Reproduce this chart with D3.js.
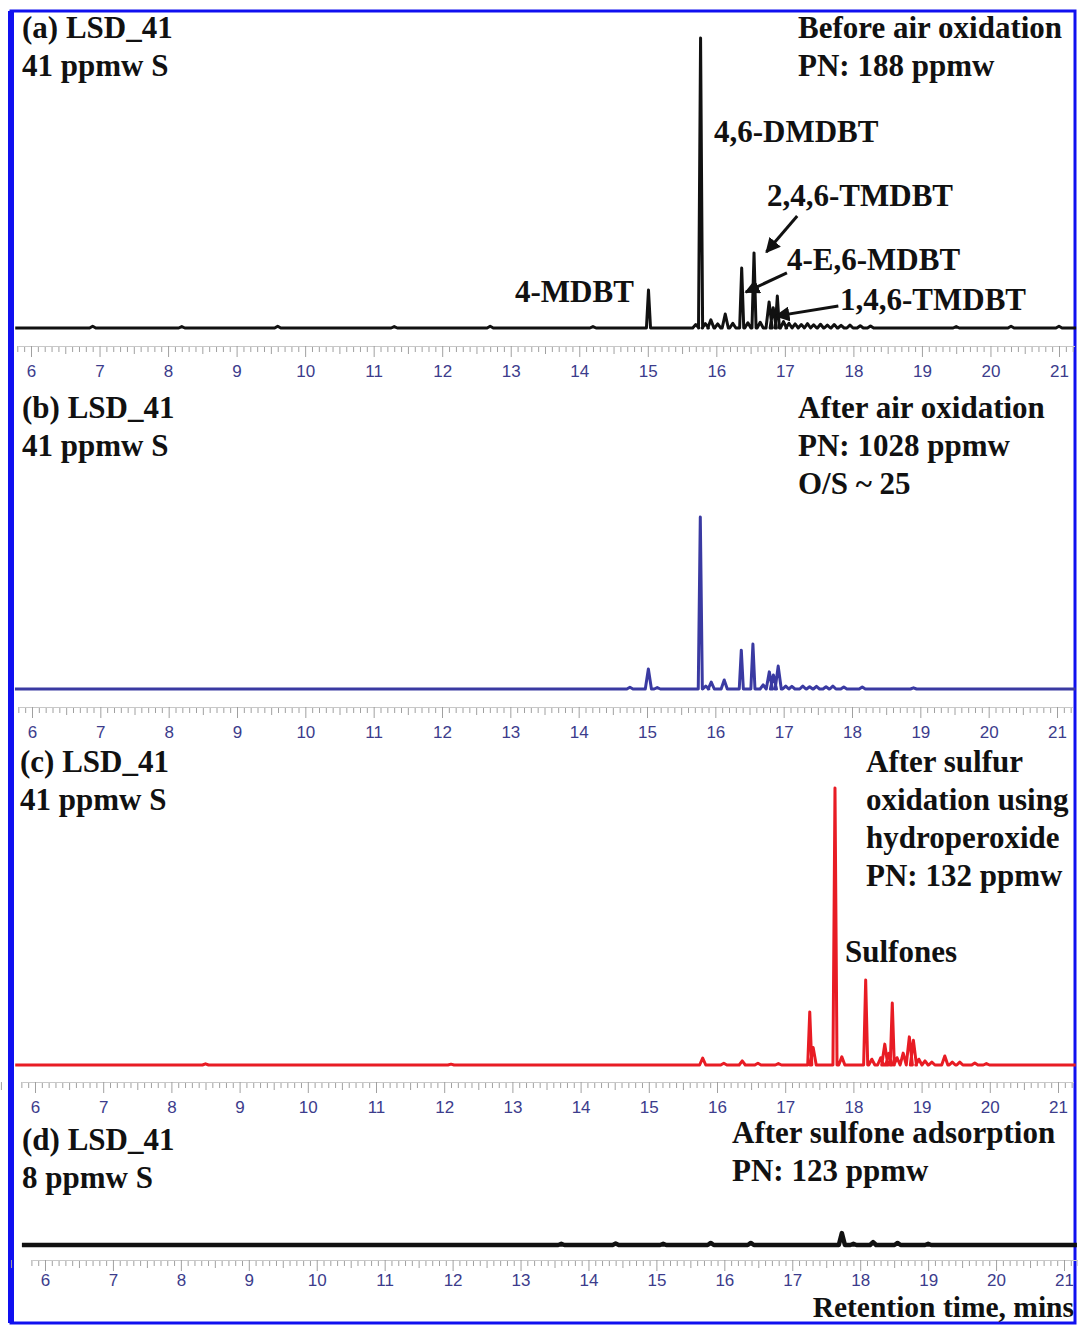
<!DOCTYPE html>
<html>
<head>
<meta charset="utf-8">
<script src="https://cdn.jsdelivr.net/npm/d3@7"></script>
<style>
  body { margin: 0; background: #fff; }
  svg { display: block; }
</style>
</head>
<body>
<svg id="chart" width="1078" height="1325"></svg>
<script>
// Retention time axis (min)
const tickValues = d3.range(6, 22);

// Peaks: [retention time (min), height (relative detector response)]
const peaksA = [
  [6.9, 0.6], [8.2, 0.5], [9.6, 0.6], [11.3, 0.5], [12.7, 0.6], [14.2, 0.5],
  [15.01, 13.1], [15.70, 1.2], [15.77, 100], [15.84, 1.5], [15.92, 2.8], [16.02, 1.4],
  [16.13, 4.8], [16.24, 1.6], [16.37, 20.7], [16.46, 1.8], [16.55, 25.9], [16.64, 2.0],
  [16.77, 9.0], [16.83, 7.0], [16.89, 11.0], [16.98, 2.2], [17.06, 1.6], [17.15, 1.4],
  [17.24, 1.2], [17.33, 1.5], [17.42, 1.1], [17.52, 1.3], [17.62, 1.0], [17.72, 1.2],
  [17.82, 0.9], [17.95, 1.0], [18.1, 0.8], [18.25, 0.7], [19.5, 0.5], [20.3, 0.6], [21.0, 0.6]
];
const peaksB = [
  [14.75, 0.6], [15.02, 6.9], [15.15, 0.5], [15.78, 59.3], [15.86, 1.0], [15.94, 2.4],
  [16.13, 3.1], [16.38, 13.4], [16.55, 15.5], [16.70, 1.4], [16.79, 5.9], [16.85, 4.8],
  [16.92, 7.9], [17.03, 1.0], [17.12, 0.9], [17.28, 1.0], [17.38, 0.8], [17.48, 0.9],
  [17.62, 0.8], [17.72, 1.0], [17.88, 0.7], [18.15, 0.7], [18.9, 0.4]
];
const peaksC = [
  [8.5, 0.4], [12.1, 0.3], [15.79, 2.4], [16.1, 0.6], [16.37, 1.4], [16.6, 0.6],
  [16.9, 0.5], [17.36, 18.3], [17.41, 6.0], [17.73, 95.5], [17.83, 2.8], [18.18, 29.3],
  [18.27, 2.0], [18.40, 2.5], [18.46, 7.2], [18.52, 4.0], [18.57, 21.4], [18.64, 2.5],
  [18.73, 4.1], [18.82, 9.7], [18.88, 8.5], [18.96, 2.0], [19.05, 1.4], [19.15, 1.0],
  [19.34, 3.1], [19.45, 1.0], [19.56, 1.0], [19.78, 0.7], [19.95, 0.5]
];
const peaksD = [
  [13.6, 0.4], [14.4, 0.5], [15.1, 0.4], [15.80, 0.7], [16.39, 0.7], [17.73, 4.1],
  [17.9, 0.4], [18.19, 1.0], [18.55, 0.7], [19.0, 0.4]
];

// Panel text
const textA = ["(a) LSD_41", "41 ppmw S", "Before air oxidation", "PN: 188 ppmw"];
const compoundsA = ["4-MDBT", "4,6-DMDBT", "2,4,6-TMDBT", "4-E,6-MDBT", "1,4,6-TMDBT"];
const textB = ["(b) LSD_41", "41 ppmw S", "After air oxidation", "PN: 1028 ppmw", "O/S ~ 25"];
const textC = ["(c) LSD_41", "41 ppmw S", "After sulfur", "oxidation using", "hydroperoxide", "PN: 132 ppmw", "Sulfones"];
const textD = ["(d) LSD_41", "8 ppmw S", "After sulfone adsorption", "PN: 123 ppmw"];
const xTitle = "Retention time, mins";

// Layout of the four stacked chromatograms
const panels = [
  { peaks: peaksA, x6: 31, x21: 1059, t0: 5.77, t1: 21.25, base: 328, ruler: 346, pad: 8,
    color: "#111", width: 3,
    text: textA, pos: [[22, 38], [22, 76], [798, 38], [798, 76]] },
  { peaks: peaksB, x6: 32, x21: 1057, t0: 5.75, t1: 21.27, base: 689, ruler: 707, pad: 8,
    color: "#3a3aa2", width: 3,
    text: textB, pos: [[22, 418], [22, 456], [798, 418], [798, 456], [798, 494]] },
  { peaks: peaksC, x6: 35, x21: 1058, t0: 5.71, t1: 21.26, base: 1065, ruler: 1082, pad: 8,
    color: "#e81c24", width: 3,
    text: textC, pos: [[20, 772], [20, 810], [866, 772], [866, 810], [866, 848], [866, 886], [845, 962]] },
  { peaks: peaksD, x6: 45, x21: 1064, t0: 5.66, t1: 21.19, base: 1245, ruler: 1260, pad: 3,
    color: "#111", width: 4.5,
    text: textD, pos: [[22, 1150], [22, 1188], [732, 1143], [732, 1181]] }
];

const svg = d3.select("#chart");
const serif = "'Liberation Serif', 'Times New Roman', serif";
const fontSize = 31;

// Blue frame
svg.append("rect").attr("x", 11).attr("y", 11).attr("width", 1064).attr("height", 1312)
  .attr("fill", "none").attr("stroke", "#1010f0").attr("stroke-width", 3);
svg.append("rect").attr("x", 8).attr("y", 11).attr("width", 6).attr("height", 1312)
  .attr("fill", "#1010f0");

panels.forEach((p, i) => {
  const x = d3.scaleLinear().domain([6, 21]).range([p.x6, p.x21]);
  const y = d3.scaleLinear().domain([0, 100]).range([p.base, p.base - 290]);

  // Trace: flat baseline with narrow peaks
  const pts = [[p.t0, 0]];
  p.peaks.forEach(([t, h]) => {
    const w = h > 10 ? 0.03 : 0.045;
    pts.push([t - w, 0], [t, h], [t + w, 0]);
  });
  pts.push([p.t1, 0]);

  const line = d3.line().x(d => x(d[0])).y(d => y(d[1]));
  svg.append("path")
    .datum(pts)
    .attr("fill", "none")
    .attr("stroke", p.color)
    .attr("stroke-width", p.width)
    .attr("stroke-linejoin", "round")
    .attr("d", line);

  // Ruler style axis: minor 0.1, half 0.5, major 1 min
  const minor = d3.range(58, 213).map(v => v / 10).filter(v => Math.abs(v * 2 - Math.round(v * 2)) > 0.01);
  const half = d3.range(5.5, 21.5, 1);
  const g = svg.append("g").attr("transform", `translate(0,${p.ruler})`);
  g.append("g").call(d3.axisBottom(x).tickValues(minor).tickSize(6).tickFormat(""));
  g.append("g").call(d3.axisBottom(x).tickValues(half).tickSize(8).tickFormat(""));
  g.append("g").call(d3.axisBottom(x).tickValues(tickValues).tickSize(11).tickPadding(p.pad).tickFormat(d3.format("d")));
  g.selectAll(".domain").attr("stroke", "#c8c8c8").attr("d", `M${x(5.82)},0.5H${x(21.23)}`);
  g.selectAll(".tick line").attr("stroke", "#a0a0a0");
  g.selectAll(".tick text")
    .attr("fill", "#3c3c8c")
    .attr("font-family", "'Liberation Sans', Arial, sans-serif")
    .attr("font-size", 17);

  // Panel text
  svg.append("g").selectAll("text")
    .data(p.text)
    .join("text")
    .attr("x", (d, k) => p.pos[k][0])
    .attr("y", (d, k) => p.pos[k][1])
    .attr("font-family", serif)
    .attr("font-weight", "bold")
    .attr("font-size", fontSize)
    .attr("fill", "#111")
    .text(d => d);

  if (i === 0) {
    // Compound labels and arrows for panel (a)
    const labelPos = [[515, 302], [714, 142], [767, 206], [787, 270], [840, 310]];
    svg.append("g").selectAll("text")
      .data(compoundsA)
      .join("text")
      .attr("x", (d, k) => labelPos[k][0])
      .attr("y", (d, k) => labelPos[k][1])
      .attr("font-family", serif)
      .attr("font-weight", "bold")
      .attr("font-size", fontSize)
      .attr("fill", "#111")
      .text(d => d);

    svg.append("defs").append("marker")
      .attr("id", "head")
      .attr("viewBox", "0 0 10 10")
      .attr("refX", 9).attr("refY", 5)
      .attr("markerWidth", 5).attr("markerHeight", 5)
      .attr("markerUnits", "strokeWidth")
      .attr("orient", "auto")
      .append("path").attr("d", "M0,0L10,5L0,10z").attr("fill", "#111");

    // [tail, tip] in data units (time, response)
    const arrows = [
      [[17.18, 38.6], [16.73, 26.2]],
      [[17.03, 19.0], [16.43, 12.4]],
      [[17.78, 7.6], [16.87, 4.1]]
    ];
    svg.append("g").selectAll("line")
      .data(arrows)
      .join("line")
      .attr("x1", d => x(d[0][0])).attr("y1", d => y(d[0][1]))
      .attr("x2", d => x(d[1][0])).attr("y2", d => y(d[1][1]))
      .attr("stroke", "#111")
      .attr("stroke-width", 3)
      .attr("marker-end", "url(#head)");
  }
});

// X axis title
svg.append("text")
  .attr("x", 1074).attr("y", 1317)
  .attr("text-anchor", "end")
  .attr("font-family", serif)
  .attr("font-weight", "bold")
  .attr("font-size", 29.5)
  .attr("fill", "#111")
  .text(xTitle);
</script>
</body>
</html>
